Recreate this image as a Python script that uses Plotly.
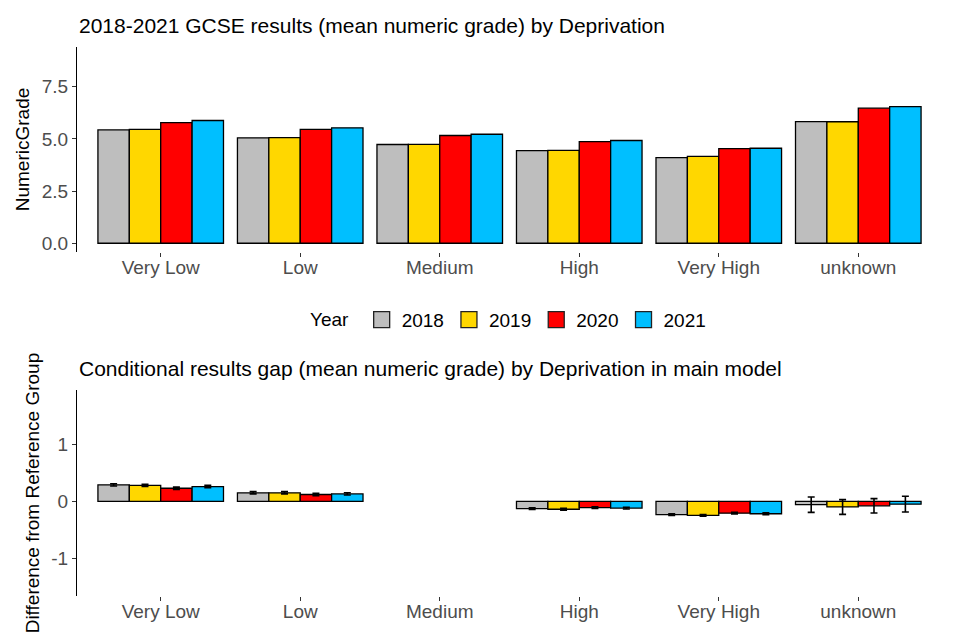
import plotly.graph_objects as go

categories = ["Very Low", "Low", "Medium", "High", "Very High", "unknown"]
years = ["2018", "2019", "2020", "2021"]
colors = ["#BEBEBE", "#FFD700", "#FF0000", "#00BFFF"]

# Top panel: mean numeric grade
grade_2018 = [5.43, 5.05, 4.73, 4.44, 4.10, 5.83]
grade_2019 = [5.45, 5.06, 4.74, 4.45, 4.16, 5.82]
grade_2020 = [5.78, 5.45, 5.16, 4.87, 4.53, 6.47]
grade_2021 = [5.88, 5.53, 5.22, 4.92, 4.55, 6.54]
grades = [grade_2018, grade_2019, grade_2020, grade_2021]

# Bottom panel: conditional gap vs reference group (Medium)
gap_2018 = [0.29, 0.15, None, -0.13, -0.235, -0.06]
gap_2019 = [0.28, 0.15, None, -0.14, -0.25, -0.10]
gap_2020 = [0.23, 0.12, None, -0.11, -0.21, -0.08]
gap_2021 = [0.26, 0.13, None, -0.12, -0.22, -0.05]
gaps = [gap_2018, gap_2019, gap_2020, gap_2021]

err_2018 = [0.02, 0.02, None, 0.015, 0.015, 0.135]
err_2019 = [0.02, 0.02, None, 0.015, 0.015, 0.13]
err_2020 = [0.02, 0.02, None, 0.015, 0.015, 0.127]
err_2021 = [0.02, 0.02, None, 0.015, 0.015, 0.14]
errs = [err_2018, err_2019, err_2020, err_2021]

FONT = "Liberation Sans, Arial, sans-serif"
TICKC = "#4D4D4D"

fig = go.Figure()
for i, yr in enumerate(years):
    fig.add_trace(go.Bar(
        x=categories, y=grades[i], name=yr, legendgroup=yr, showlegend=False,
        marker=dict(color=colors[i], line=dict(color="black", width=1.3)),
        xaxis="x", yaxis="y",
    ))
for i, yr in enumerate(years):
    fig.add_trace(go.Bar(
        x=categories, y=gaps[i], name=yr, legendgroup=yr, showlegend=False,
        marker=dict(color=colors[i], line=dict(color="black", width=1.3)),
        error_y=dict(type="data", array=errs[i], color="black", thickness=1.6, width=3.5),
        xaxis="x2", yaxis="y2",
    ))
# legend-only keys (larger square swatches)
for i, yr in enumerate(years):
    fig.add_trace(go.Scatter(
        x=[None], y=[None], mode="markers", name=yr, legendgroup=yr,
        marker=dict(symbol="square", size=26, color=colors[i],
                    line=dict(color="#222222", width=1.3)),
        xaxis="x", yaxis="y",
    ))

axis_common = dict(
    showgrid=False, zeroline=False, automargin=False,
    ticks="outside", ticklen=4, tickcolor="#333333", tickwidth=1,
    tickfont=dict(size=19, color=TICKC, family=FONT),
)

fig.update_layout(
    width=952, height=632,
    paper_bgcolor="white", plot_bgcolor="white",
    font=dict(family=FONT, size=19, color="black"),
    margin=dict(l=69, r=18, t=39, b=44),
    barmode="group", bargap=0.1, bargroupgap=0,
    xaxis=dict(domain=[0, 1], anchor="y", range=[-0.6, 5.6], showline=False,
               ticklabelstandoff=-6, **axis_common),
    yaxis=dict(domain=[0.6266, 1], anchor="x", range=[-0.42, 9.4],
               tickvals=[0, 2.5, 5, 7.5], ticktext=["0.0", "2.5", "5.0", "7.5"],
               showline=True, linecolor="black", linewidth=1.3,
               title=dict(text="NumericGrade", font=dict(size=19), standoff=6),
               **axis_common),
    xaxis2=dict(domain=[0, 1], anchor="y2", range=[-0.6, 5.6], showline=False,
                ticklabelstandoff=-6, **axis_common),
    yaxis2=dict(domain=[0, 0.375], anchor="x2", range=[-1.67, 1.96],
                tickvals=[-1, 0, 1], ticktext=["-1", "0", "1"],
                showline=True, linecolor="black", linewidth=1.3,
                title=dict(text="Difference from Reference Group", font=dict(size=19), standoff=6),
                **axis_common),
    legend=dict(orientation="h", x=0.5, xanchor="center", y=0.503, yanchor="middle",
                title=dict(text="Year ", side="left", font=dict(size=19)),
                font=dict(size=19), itemwidth=30, itemsizing="trace"),
    annotations=[
        dict(text="2018-2021 GCSE results (mean numeric grade) by Deprivation",
             xref="paper", yref="paper", x=0, y=1, xanchor="left", yanchor="bottom",
             yshift=8, showarrow=False, font=dict(size=21, color="black")),
        dict(text="Conditional results gap (mean numeric grade) by Deprivation in main model",
             xref="paper", yref="paper", x=0, y=0.375, xanchor="left", yanchor="bottom",
             yshift=8, showarrow=False, font=dict(size=21, color="black")),
    ],
)

fig.write_html("out.html")
